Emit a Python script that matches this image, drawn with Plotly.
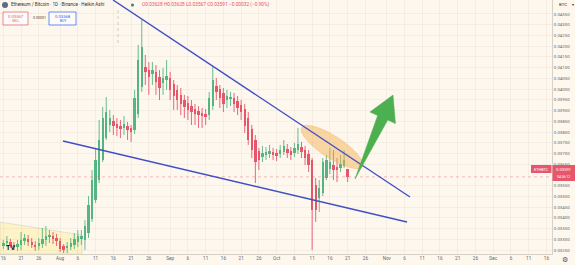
import math
import plotly.graph_objects as go
import pandas as pd

# ---------------- data (Heikin Ashi, ETH/BTC, 1D) ----------------
dates = pd.date_range("2024-07-16", periods=98, freq="D")

opens = [0.03269, 0.03283, 0.03287, 0.03274, 0.03264, 0.03274, 0.03292, 0.03302, 0.03287, 0.03274,
         0.03269, 0.03278, 0.03297, 0.03311, 0.03315, 0.03306, 0.03292, 0.03269, 0.03260, 0.03264,
         0.03274, 0.03287, 0.03302, 0.03297, 0.03329, 0.03395, 0.03483, 0.03576, 0.03670, 0.03772,
         0.03833, 0.03851, 0.03837, 0.03828, 0.03819, 0.03828, 0.03819, 0.03809, 0.03884, 0.04010,
         0.04103, 0.04089, 0.04070, 0.04080, 0.04056, 0.04028, 0.04042, 0.04052, 0.04024, 0.03996,
         0.03973, 0.03949, 0.03935, 0.03921, 0.03907, 0.03898, 0.03889, 0.03884, 0.03879, 0.03921,
         0.04014, 0.04000, 0.03982, 0.03949, 0.03954, 0.03959, 0.03945, 0.03926, 0.03907, 0.03865,
         0.03814, 0.03763, 0.03712, 0.03684, 0.03693, 0.03698, 0.03707, 0.03702, 0.03698, 0.03707,
         0.03721, 0.03712, 0.03702, 0.03716, 0.03730, 0.03716, 0.03698, 0.03670, 0.03553, 0.03493,
         0.03516, 0.03586, 0.03628, 0.03646, 0.03637, 0.03632, 0.03642, 0.03628]
highs = [0.03297, 0.03315, 0.03302, 0.03287, 0.03297, 0.03334, 0.03325, 0.03320, 0.03306, 0.03292,
         0.03306, 0.03353, 0.03362, 0.03343, 0.03334, 0.03325, 0.03306, 0.03278, 0.03287, 0.03306,
         0.03329, 0.03343, 0.03343, 0.03390, 0.03502, 0.03623, 0.03726, 0.03856, 0.03917, 0.03963,
         0.03903, 0.03879, 0.03865, 0.03856, 0.03875, 0.03847, 0.03833, 0.03996, 0.04206, 0.04322,
         0.04159, 0.04126, 0.04126, 0.04112, 0.04089, 0.04098, 0.04136, 0.04080, 0.04042, 0.04019,
         0.04005, 0.03973, 0.03968, 0.03949, 0.03931, 0.03921, 0.03912, 0.03907, 0.03987, 0.04103,
         0.04052, 0.04019, 0.04005, 0.03996, 0.03987, 0.03982, 0.03968, 0.03949, 0.03931, 0.03893,
         0.03833, 0.03786, 0.03726, 0.03735, 0.03730, 0.03740, 0.03726, 0.03721, 0.03740, 0.03763,
         0.03744, 0.03730, 0.03749, 0.03819, 0.03754, 0.03735, 0.03716, 0.03679, 0.03586, 0.03576,
         0.03679, 0.03693, 0.03726, 0.03716, 0.03679, 0.03693, 0.03716, 0.03628]
lows = [0.03255, 0.03264, 0.03260, 0.03250, 0.03246, 0.03250, 0.03274, 0.03269, 0.03260, 0.03246,
        0.03250, 0.03260, 0.03269, 0.03283, 0.03278, 0.03269, 0.03241, 0.03236, 0.03236, 0.03250,
        0.03255, 0.03264, 0.03274, 0.03250, 0.03306, 0.03381, 0.03469, 0.03562, 0.03660, 0.03763,
        0.03800, 0.03786, 0.03781, 0.03772, 0.03786, 0.03763, 0.03754, 0.03791, 0.03865, 0.03987,
        0.04019, 0.03973, 0.04019, 0.03973, 0.03949, 0.03973, 0.03996, 0.03949, 0.03903, 0.03903,
        0.03879, 0.03865, 0.03856, 0.03833, 0.03833, 0.03819, 0.03819, 0.03833, 0.03856, 0.03903,
        0.03949, 0.03912, 0.03893, 0.03912, 0.03921, 0.03893, 0.03879, 0.03856, 0.03795, 0.03740,
        0.03679, 0.03562, 0.03623, 0.03660, 0.03670, 0.03679, 0.03670, 0.03665, 0.03679, 0.03693,
        0.03679, 0.03670, 0.03684, 0.03698, 0.03679, 0.03646, 0.03614, 0.03250, 0.03381, 0.03427,
        0.03502, 0.03576, 0.03604, 0.03576, 0.03567, 0.03614, 0.03632, 0.03567]
closes = [0.03283, 0.03292, 0.03274, 0.03264, 0.03278, 0.03297, 0.03306, 0.03287, 0.03274, 0.03264,
          0.03283, 0.03302, 0.03315, 0.03320, 0.03306, 0.03292, 0.03255, 0.03250, 0.03269, 0.03283,
          0.03302, 0.03315, 0.03315, 0.03362, 0.03460, 0.03576, 0.03670, 0.03763, 0.03865, 0.03893,
          0.03865, 0.03828, 0.03819, 0.03814, 0.03837, 0.03809, 0.03800, 0.03959, 0.04136, 0.04196,
          0.04080, 0.04056, 0.04089, 0.04033, 0.04005, 0.04052, 0.04061, 0.03996, 0.03968, 0.03949,
          0.03931, 0.03917, 0.03903, 0.03893, 0.03884, 0.03879, 0.03875, 0.03870, 0.03959, 0.04042,
          0.03987, 0.03959, 0.03931, 0.03968, 0.03963, 0.03931, 0.03912, 0.03893, 0.03828, 0.03763,
          0.03716, 0.03660, 0.03670, 0.03702, 0.03707, 0.03712, 0.03693, 0.03688, 0.03716, 0.03735,
          0.03702, 0.03693, 0.03726, 0.03744, 0.03707, 0.03679, 0.03646, 0.03437, 0.03437, 0.03539,
          0.03660, 0.03670, 0.03660, 0.03623, 0.03623, 0.03651, 0.03670, 0.03591]

x_tick_dates = ["2024-07-16", "2024-07-21", "2024-07-26", "2024-08-01", "2024-08-06", "2024-08-11",
                "2024-08-16", "2024-08-21", "2024-08-26", "2024-09-01", "2024-09-06", "2024-09-11",
                "2024-09-16", "2024-09-21", "2024-09-26", "2024-10-01", "2024-10-06", "2024-10-11",
                "2024-10-16", "2024-10-21", "2024-10-26", "2024-11-01", "2024-11-06", "2024-11-11",
                "2024-11-16", "2024-11-21", "2024-11-26", "2024-12-01", "2024-12-06", "2024-12-11",
                "2024-12-16"]
x_tick_text = ["16", "21", "26", "Aug", "6", "11", "16", "21", "26", "Sep", "6", "11", "16", "21", "26",
               "Oct", "6", "11", "16", "21", "26", "Nov", "6", "11", "16", "21", "26", "Dec", "6", "11", "16"]
# 0.03600 is hidden behind the last-price label, as in the reference
y_tick_vals = [0.0325, 0.0330, 0.0335, 0.0340, 0.0345, 0.0350, 0.0355, 0.0365, 0.0370,
               0.0375, 0.0380, 0.0385, 0.0390, 0.0395, 0.0400, 0.0405, 0.0410, 0.0415, 0.0420,
               0.0425, 0.0430, 0.0435]

# ---------------- style ----------------
BG = "#FDF7EE"
GREEN = "#55B583"
RED = "#E8566C"
BLUE = "#3F4FC4"
W, H = 575, 265
PLOT_W, PLOT_H = 552, 254
FONT = "Roboto"
DAY_MS = 86400000


def P(px, py):
    """pixel position in the plot area -> paper fraction (for drawings/labels)"""
    return px / PLOT_W, 1 - py / PLOT_H


fig = go.Figure()

# candles drawn through the axes: wicks as line segments, bodies as floating bars
for up, col in [(True, GREEN), (False, RED)]:
    idx = [i for i in range(len(dates)) if (closes[i] >= opens[i]) == up]
    wx, wy = [], []
    for i in idx:
        wx += [dates[i], dates[i], None]
        wy += [lows[i], highs[i], None]
    fig.add_trace(go.Scatter(x=wx, y=wy, mode="lines", line=dict(color=col, width=0.9),
                             hoverinfo="skip", showlegend=False))
    fig.add_trace(go.Bar(x=[dates[i] for i in idx],
                         y=[max(abs(closes[i] - opens[i]), 0.00002) for i in idx],
                         base=[min(opens[i], closes[i]) for i in idx],
                         width=0.68 * DAY_MS, marker=dict(color=col, line=dict(width=0)),
                         hoverinfo="skip", showlegend=False))

shapes = []
annos = []

# price line at last close
shapes.append(dict(type="line", xref="x domain", yref="y", x0=0, x1=1, y0=closes[-1], y1=closes[-1],
                   line=dict(color="rgba(232,86,108,0.55)", width=0.7, dash="dot")))

# yellow shaded zone bottom-left
x0, y0 = P(0, 222); x1, y1 = P(82, 235); x2, y2 = P(82, 254); x3, y3 = P(0, 254)
shapes.append(dict(type="path", xref="paper", yref="paper",
                   path=f"M{x0},{y0} L{x1},{y1} L{x2},{y2} L{x3},{y3} Z",
                   fillcolor="rgba(255,236,150,0.45)", line=dict(color="rgba(150,150,150,0.35)", width=0.6),
                   layer="below"))

# dotted vertical line
a, b = P(118, 10); c, d = P(118, 46)
shapes.append(dict(type="line", xref="paper", yref="paper", x0=a, y0=b, x1=c, y1=d,
                   line=dict(color="rgba(120,120,120,0.5)", width=0.7, dash="dot")))

# orange ellipse (rotated) as a path
cx, cy, ra, rb, ang = 332, 147, 36, 11, math.radians(33)
pts = []
for k in range(60):
    t = 2 * math.pi * k / 60
    px = cx + ra * math.cos(t) * math.cos(ang) - rb * math.sin(t) * math.sin(ang)
    py = cy + ra * math.cos(t) * math.sin(ang) + rb * math.sin(t) * math.cos(ang)
    pts.append(P(px, py))
path = "M" + " L".join(f"{u},{v}" for u, v in pts) + " Z"
shapes.append(dict(type="path", xref="paper", yref="paper", path=path,
                   fillcolor="rgba(243,170,70,0.45)", line=dict(color="rgba(243,170,70,0.6)", width=0.6)))

# trend lines
for (ax, ay, bx, by) in [(113, 0, 410, 197), (63, 141, 407, 222)]:
    u0, v0 = P(ax, ay); u1, v1 = P(bx, by)
    shapes.append(dict(type="line", xref="paper", yref="paper", x0=u0, y0=v0, x1=u1, y1=v1,
                       line=dict(color=BLUE, width=1.4)))

# green arrow
tail = (355, 179); tip = (393, 95)
dx, dy = tip[0] - tail[0], tip[1] - tail[1]
L = math.hypot(dx, dy); ux, uy = dx / L, dy / L; nx, ny = -uy, ux
bc = (tip[0] - 25 * ux, tip[1] - 25 * uy)
poly = [tail,
        (bc[0] - 5.5 * nx, bc[1] - 5.5 * ny),
        (bc[0] - 14 * nx, bc[1] - 14 * ny),
        tip,
        (bc[0] + 14 * nx, bc[1] + 14 * ny),
        (bc[0] + 5.5 * nx, bc[1] + 5.5 * ny)]
path = "M" + " L".join("{},{}".format(*P(*p)) for p in poly) + " Z"
shapes.append(dict(type="path", xref="paper", yref="paper", path=path,
                   fillcolor="#4CAF50", line=dict(color="#4CAF50", width=0.5)))


def text(px, py, s, size, color, anchor="left", bold=False):
    u, v = P(px, py)
    annos.append(dict(x=u, y=v, xref="paper", yref="paper", text=f"<b>{s}</b>" if bold else s,
                      showarrow=False, xanchor=anchor, yanchor="middle",
                      font=dict(size=size, color=color, family=FONT)))


def rect(px0, py0, px1, py1, fill, line, lw=0.7):
    u0, v0 = P(px0, py0); u1, v1 = P(px1, py1)
    shapes.append(dict(type="rect", xref="paper", yref="paper", x0=u0, y0=v0, x1=u1, y1=v1,
                       fillcolor=fill, line=dict(color=line, width=lw)))


# header
u0, v0 = P(2, 2); u1, v1 = P(8, 8)
shapes.append(dict(type="circle", xref="paper", yref="paper", x0=u0, y0=v0, x1=u1, y1=v1,
                   fillcolor="#5a6b8c", line=dict(width=0)))
text(9, 5, "Ethereum / Bitcoin · 1D · Binance · Heikin Ashi", 4.6, "#333333")
u0, v0 = P(131, 3.5); u1, v1 = P(134, 6.5)
shapes.append(dict(type="circle", xref="paper", yref="paper", x0=u0, y0=v0, x1=u1, y1=v1,
                   fillcolor="#2c8a6e", line=dict(width=0)))
text(140, 5, "O0.03628 H0.03628 L0.03567 C0.03591 −0.00032 (−0.90%)", 4.8, RED)

rect(3, 12, 28, 25, "rgba(255,255,255,0.6)", RED)
text(15.5, 16, "0.03567", 4.2, RED, "center")
text(15.5, 21.5, "SELL", 3.3, RED, "center")
text(39, 18.5, "0.00001", 3.6, "#444444", "center")
rect(49, 12, 76, 25, "rgba(255,255,255,0.6)", "#2962FF")
text(62.5, 16, "0.03568", 4.2, "#2962FF", "center")
text(62.5, 21.5, "BUY", 3.3, "#2962FF", "center")

# axis extras
text(557, 5, "BTC", 4.4, "#333333")
text(570, 5, "▾", 4.4, "#333333")
rect(552.5, 165, 575, 181, RED, RED, 0)
text(563.5, 169.5, "0.03591", 4.2, "white", "center")
text(563.5, 176.5, "04:36:12", 3.4, "white", "center")
rect(531, 165, 551.5, 173, RED, RED, 0)
text(541, 169, "ETHBTC", 3.8, "white", "center")
text(565, 260, "⚙", 7, "#555555", "center")
text(4, 248, "TV", 7, "#131722", "left", bold=True)

fig.update_layout(
    width=W, height=H,
    margin=dict(l=0, r=W - PLOT_W, t=0, b=H - PLOT_H),
    paper_bgcolor=BG, plot_bgcolor=BG,
    font=dict(family=FONT, size=5, color="#666666"),
    shapes=shapes, annotations=annos,
    showlegend=False, barmode="overlay", bargap=0,
    xaxis=dict(type="date", range=["2024-07-15 01:40", "2024-12-17 13:30"],
               tickvals=x_tick_dates, ticktext=x_tick_text, tickfont=dict(size=4.6, color="#666666"),
               showgrid=True, gridcolor="rgba(0,0,0,0.035)", gridwidth=0.6,
               showline=True, linecolor="#D8D1C6", linewidth=0.8, ticks="", zeroline=False,
               fixedrange=True),
    yaxis=dict(side="right", range=[0.032316, 0.044152], tickvals=y_tick_vals, tickformat=".5f",
               tickfont=dict(size=4.4, color="#666666"),
               showgrid=True, gridcolor="rgba(0,0,0,0.035)", gridwidth=0.6,
               showline=True, linecolor="#D8D1C6", linewidth=0.8, ticks="", zeroline=False,
               fixedrange=True),
)

fig.write_html("out.html", config=dict(displayModeBar=False))
